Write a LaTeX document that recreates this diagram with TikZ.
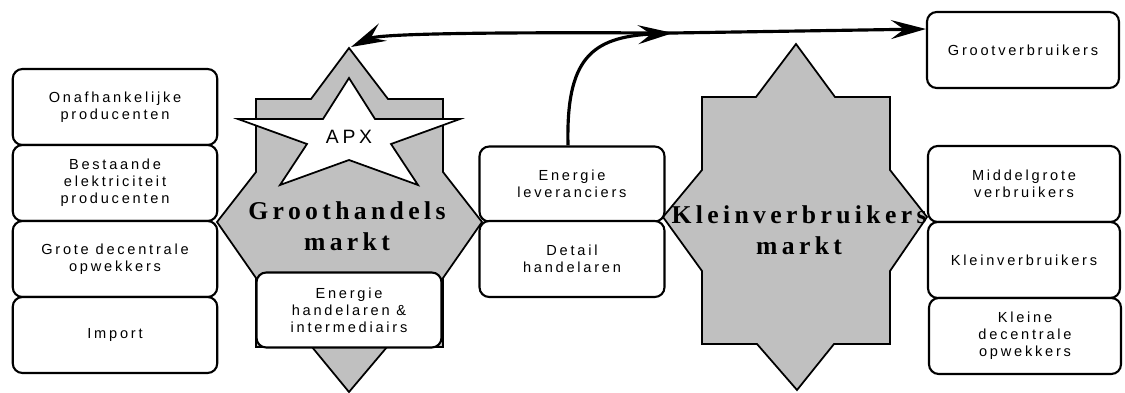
\documentclass[tikz,border=0pt]{standalone}
\usepackage{fontspec}
\usetikzlibrary{arrows.meta}
\setmainfont{Liberation Sans}
\newfontfamily\blokfont[LetterSpace=19]{Liberation Sans}
\newfontfamily\marktfont[LetterSpace=17]{Liberation Serif}
\definecolor{marktgrijs}{RGB}{192,192,192}

\begin{document}
\begin{tikzpicture}
[
	x=0.02cm, y=-0.02cm,
	>={Stealth[length=0.7cm,width=0.38cm,inset=0.26cm]},
	blok/.style={draw,line width=1.2pt,rounded corners=5.5pt,fill=white,align=center,inner sep=2pt,minimum height=1.52cm,font=\blokfont\fontsize{8.3}{9.6}\selectfont},
	links/.style={blok,minimum width=4.09cm},
	midden/.style={blok,minimum width=3.7cm},
	rechts/.style={blok,minimum width=3.84cm},
	markt/.style={draw,line width=1pt,fill=marktgrijs},
	markttekst/.style={align=center,font=\marktfont\bfseries\fontsize{14.6}{17.6}\selectfont},
	pijl/.style={line width=1.8pt}
]

	\useasboundingbox (0,0) rectangle (1125,392);

	% groothandelsmarkt
	\draw[markt] (349,48) -- (388,99) -- (443,99) -- (443,172) -- (482,222) -- (443,278) -- (443,347) -- (387,347) -- (349,392) -- (312,347) -- (256,347) -- (256,278) -- (217,222) -- (256,172) -- (256,99) -- (311,99) -- cycle;
	\coordinate (groottop) at (351,47);

	% kleinverbruikersmarkt
	\draw[markt] (796,44) -- (835,97) -- (890,97) -- (890,170) -- (927,217) -- (890,271) -- (890,344) -- (834,344) -- (797,390) -- (757,344) -- (702,344) -- (702,271) -- (663,217) -- (702,170) -- (702,97) -- (756,97) -- cycle;

	% APX ster
	\draw[markt,fill=white] (349,78) -- (375,119) -- (460,119) -- (391,144) -- (418,185) -- (349,160) -- (280,185) -- (307,144) -- (238,119) -- (323,119) -- cycle;
	\node[font=\blokfont\fontsize{11}{13}\selectfont] (apx) at (349,137) {APX};

	\node[markttekst] (groothandel) at (347,226) {Groothandels\\markt};
	\node[markttekst] (kleinmarkt) at (799,230) {Kleinverbruikers\\markt};

	% producenten
	\node[links] (onafh) at (115,107) {Onafhankelijke\\producenten};
	\node[links] (bestaand) at (115,183) {Bestaande\\elektriciteit\\producenten};
	\node[links] (decentraal) at (115,259) {Grote decentrale\\opwekkers};
	\node[links] (import) at (115,335) {Import};

	% handelaren
	\node[blok,minimum width=3.7cm,minimum height=1.5cm] (handelaren) at (349,310) {Energie\\handelaren \&\\intermediairs};
	\node[midden,minimum height=1.5cm] (leveranciers) at (572,184) {Energie\\leveranciers};
	\node[midden] (detail) at (572,259) {Detail\\handelaren};

	% verbruikers
	\node[rechts] (grootv) at (1023,50) {Grootverbruikers};
	\node[rechts] (middelgroot) at (1024,184) {Middelgrote\\verbruikers};
	\node[rechts] (kleinv) at (1024,260) {Kleinverbruikers};
	\node[rechts] (kleinedec) at (1025,336) {Kleine\\decentrale\\opwekkers};

	% pijlen
	\coordinate (knik) at (673,33);
	\draw[pijl,<->] (groottop) to[out=25,in=180,looseness=0.3] (knik) -- ([yshift=0.42cm]grootv.west);
	\draw[pijl,->] ([xshift=-0.08cm]leveranciers.north) .. controls (566,60) and (590,37) .. (knik);

\end{tikzpicture}
\end{document}
